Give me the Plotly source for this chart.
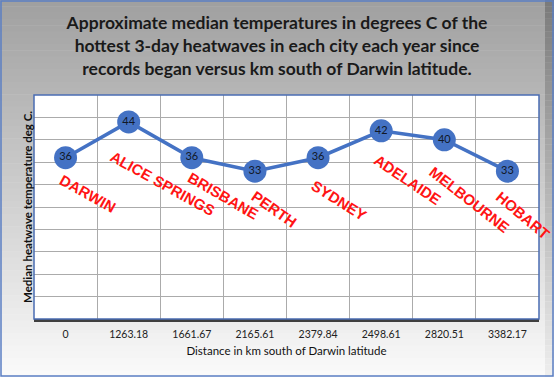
import plotly.graph_objects as go

# ---- data ----
distances = ["0", "1263.18", "1661.67", "2165.61", "2379.84", "2498.61", "2820.51", "3382.17"]
cities = ["DARWIN", "ALICE SPRINGS", "BRISBANE", "PERTH", "SYDNEY", "ADELAIDE", "MELBOURNE", "HOBART"]
temps = [36, 44, 36, 33, 36, 42, 40, 33]

# ---- layout geometry (pixels) ----
W, H = 554, 377
ML, MR, MT, MB = 34, 15, 95, 58
PW, PH = W - ML - MR, H - MT - MB


def px_x(px):
    return (px - ML) / PW


def px_y(py):
    return (H - MB - py) / PH


# label centre offsets from each marker (pixels: right, down) and label angles
label_dx = [22, 34, 31, 20, 21, 26, 25, 16]
label_dy = [36, 62, 38, 38, 43, 49, 60, 44]
label_angle = [29, 29, 30, 35, 32, 34, 38, 40]

fig = go.Figure()

fig.add_trace(go.Scatter(
    x=distances, y=temps,
    mode="lines+markers+text",
    line=dict(color="#4472C4", width=3.5),
    marker=dict(size=23, color="#4472C4", line=dict(width=0)),
    text=[str(v) for v in temps],
    textposition="middle center",
    textfont=dict(family="Lato, sans-serif", size=11, color="#111827"),
    hoverinfo="skip",
    showlegend=False,
    cliponaxis=False,
))

shapes = []
# background gradient (grey top -> near white bottom)
N = 60
top = (160, 160, 160)
bot = (250, 250, 250)
for i in range(N):
    t = i / (N - 1)
    c = tuple(int(round(top[k] + (bot[k] - top[k]) * t)) for k in range(3))
    y0 = H * i / N
    y1 = H * (i + 1) / N + 0.5
    shapes.append(dict(type="rect", xref="paper", yref="paper",
                       x0=px_x(0), x1=px_x(W), y0=px_y(y1), y1=px_y(y0),
                       fillcolor="rgb(%d,%d,%d)" % c, line=dict(width=0), layer="below"))
    # darker strip at right edge
    c2 = tuple(max(0, int(v - 25 * (1 - t) - 12)) for v in c)
    shapes.append(dict(type="rect", xref="paper", yref="paper",
                       x0=px_x(545), x1=px_x(W), y0=px_y(y1), y1=px_y(y0),
                       fillcolor="rgb(%d,%d,%d)" % c2, line=dict(width=0), layer="below"))
# plot area white
shapes.append(dict(type="rect", xref="paper", yref="paper", x0=0, x1=1, y0=0, y1=1,
                   fillcolor="white", line=dict(width=0), layer="below"))
# plot border (blue)
shapes.append(dict(type="rect", xref="paper", yref="paper", x0=0, x1=1, y0=0, y1=1,
                   fillcolor="rgba(0,0,0,0)", line=dict(color="#4a6cb3", width=1.5), layer="above"))
# outer chart border
shapes.append(dict(type="rect", xref="paper", yref="paper",
                   x0=px_x(1), x1=px_x(W - 1), y0=px_y(H - 1), y1=px_y(1),
                   fillcolor="rgba(0,0,0,0)", line=dict(color="#5b7fc4", width=1.5), layer="above"))

annotations = []
for i, (c, v) in enumerate(zip(cities, temps)):
    annotations.append(dict(
        x=i, y=v, xref="x", yref="y",
        text="<b>%s</b>" % c, showarrow=False, textangle=label_angle[i],
        xanchor="center", yanchor="middle",
        xshift=label_dx[i], yshift=-label_dy[i],
        font=dict(family="Liberation Sans, Arial, sans-serif", size=15, color="#ff1414"),
    ))
# y-axis title
annotations.append(dict(
    x=px_x(27), y=0.5, xref="paper", yref="paper",
    text="<b>Median heatwave temperature deg C.</b>", showarrow=False, textangle=-90,
    xanchor="center", yanchor="middle",
    font=dict(family="Lato, sans-serif", size=11.5, color="#111111"),
))

fig.update_layout(
    width=W, height=H,
    margin=dict(l=ML, r=MR, t=MT, b=MB, autoexpand=False),
    paper_bgcolor="white",
    plot_bgcolor="rgba(0,0,0,0)",
    title=dict(
        text="<b>Approximate median temperatures in degrees C of the<br>"
             "hottest 3-day heatwaves in each city each year since<br>"
             "records began versus km south of Darwin latitude.</b>",
        x=0.5, xanchor="center", xref="container",
        y=1 - 29 / H, yanchor="middle", yref="container",
        font=dict(family="Lato, sans-serif", size=17.5, color="#1a1a1a"),
    ),
    shapes=shapes,
    annotations=annotations,
    xaxis=dict(
        type="category",
        range=[-0.5, 7.5],
        tickson="boundaries",
        showgrid=True, gridcolor="#ababab", gridwidth=1,
        showline=True, linecolor="#404040", linewidth=2.5,
        ticks="outside", ticklen=7, tickcolor="rgba(0,0,0,0)",
        ticklabelstandoff=4,
        tickfont=dict(family="Lato, sans-serif", size=10.5, color="#222222"),
        title=dict(text="Distance in km south of Darwin latitude", standoff=8,
                   font=dict(family="Lato, sans-serif", size=11.5, color="#111111")),
        fixedrange=True,
        automargin=False,
    ),
    yaxis=dict(
        range=[0, 50], dtick=5,
        showgrid=True, gridcolor="#ababab", gridwidth=1,
        showticklabels=False, zeroline=False, showline=False,
        fixedrange=True,
        automargin=False,
    ),
)

fig.write_html(
    "out.html",
    config={"displayModeBar": False},
    post_script="document.body.style.margin='0';document.body.style.overflow='hidden';",
)
